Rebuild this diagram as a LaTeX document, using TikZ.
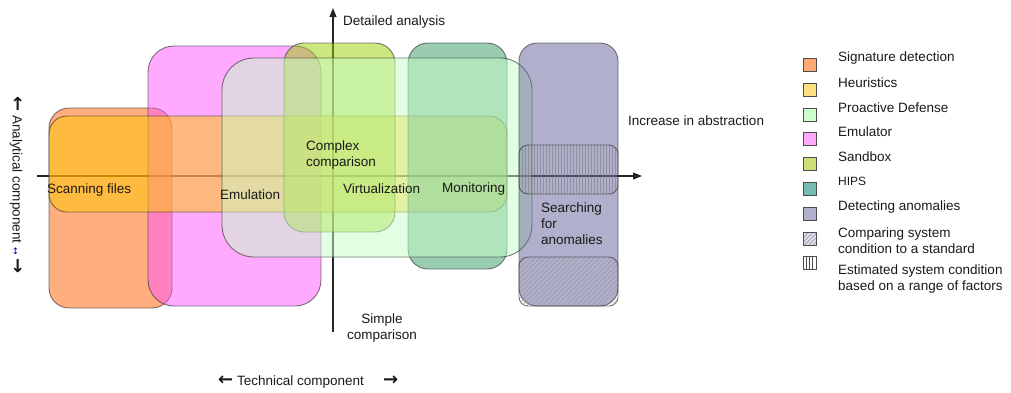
\documentclass[tikz,border=0pt]{standalone}
\usepackage{fontspec}
\setmainfont{Liberation Sans}
\newfontfamily\arrfont{DejaVu Sans}
\usetikzlibrary{arrows.meta,patterns.meta}

% fill colours of the areas (used half transparent)
\definecolor{sigC}{RGB}{255,95,0}
\definecolor{heuC}{RGB}{255,200,0}
\definecolor{proC}{RGB}{200,255,200}
\definecolor{emuC}{RGB}{255,85,255}
\definecolor{sanC}{RGB}{153,205,1}
\definecolor{hipC}{RGB}{51,153,97}
\definecolor{detC}{RGB}{97,97,153}
% legend swatch colours
\definecolor{sigL}{RGB}{255,170,119}
\definecolor{heuL}{RGB}{255,224,128}
\definecolor{proL}{RGB}{204,255,204}
\definecolor{emuL}{RGB}{255,170,255}
\definecolor{sanL}{RGB}{204,224,119}
\definecolor{hipL}{RGB}{119,187,181}
\definecolor{detL}{RGB}{176,176,204}
\definecolor{hatL}{RGB}{224,224,240}

\newcommand{\bigarr}[1]{{\arrfont\bfseries\fontsize{18}{18}\selectfont #1}}

\begin{document}
\begin{tikzpicture}[x=1pt,y=-1pt,
  font=\fontsize{13.5}{16}\selectfont,
  area/.style={draw=black!80, draw opacity=0.65, line width=0.9pt, fill opacity=0.5},
  hatchbox/.style={draw=black!80, draw opacity=0.65, line width=0.9pt, rounded corners=9pt},
  lbl/.style={anchor=west, inner sep=0pt, align=left, text=black!90},
  axis/.style={draw=black!85, line width=1.1pt, -{Triangle[length=9pt,width=7pt]}},
  swatch/.style={draw=black!70, line width=0.9pt}]
\useasboundingbox (0,0) rectangle (1011,392);

% axes
\coordinate (xl) at (37,176);
\coordinate (xr) at (642,176);
\coordinate (yb) at (333,332);
\coordinate (yt) at (333,8);
\draw[axis] (xl) -- (xr);
\draw[axis] (yb) -- (yt);

% areas
\draw[area, fill=sigC, rounded corners=20pt] (49,108) rectangle (172,308);
\draw[area, fill=emuC, rounded corners=26pt] (148,46) rectangle (321,306);
\draw[area, fill=heuC, rounded corners=18pt] (49,116) rectangle (507,212);
\draw[area, fill=sanC, rounded corners=20pt] (284,43) rectangle (395,232);
\draw[area, fill=hipC, rounded corners=20pt] (408,43) rectangle (507,269);
\draw[area, fill=proC, rounded corners=32pt] (222,58) rectangle (532,257);
\draw[area, fill=detC, rounded corners=18pt] (519,43) rectangle (618,306);
\draw[hatchbox, pattern={Lines[angle=90,distance=3pt,line width=0.6pt]}, pattern color=black!50]
  (519,145) rectangle (618,194);
\draw[hatchbox, pattern={Lines[angle=45,distance=3.5pt,line width=0.6pt]}, pattern color=black!45]
  (519,257) rectangle (618,306);

% labels in the plot
\node[lbl] (detailed) at (343,22) {Detailed analysis};
\node[lbl] (abstr) at (628,121) {Increase in abstraction};
\node[lbl] (complex) at (306,155) {Complex\\comparison};
\node[lbl] (scan) at (47,190) {Scanning files};
\node[lbl] (emul) at (220,195) {Emulation};
\node[lbl] (virt) at (343,189) {Virtualization};
\node[lbl] (monit) at (442,189) {Monitoring};
\node[lbl] (search) at (541,224) {Searching\\for\\anomalies};
\node[inner sep=0pt, align=center, text=black!90] (simple) at (382,328) {Simple\\comparison};
\node[lbl] (techn) at (218,382) {\bigarr{←} Technical component};
\node[lbl] (technr) at (383,381) {\bigarr{→}};
\node[inner sep=0pt, rotate=-90, text=black!90] (analyt) at (16,185)
  {\bigarr{←} Analytical component {\color{blue!70!black}\fontsize{9}{9}\arrfont ↔} \bigarr{→}};

% legend
\draw[swatch, fill=sigL] (803,58) rectangle (816,71);
\draw[swatch, fill=heuL] (803,83) rectangle (816,96);
\draw[swatch, fill=proL] (803,108) rectangle (816,121);
\draw[swatch, fill=emuL] (803,132) rectangle (816,145);
\draw[swatch, fill=sanL] (803,157) rectangle (816,170);
\draw[swatch, fill=hipL] (803,182) rectangle (816,195);
\draw[swatch, fill=detL] (803,207) rectangle (816,220);
\draw[swatch, fill=hatL] (803,232) rectangle (816,245);
\draw[swatch, pattern={Lines[angle=45,distance=3pt,line width=0.6pt]}, pattern color=black!40]
  (803,232) rectangle (816,245);
\draw[swatch, pattern={Lines[angle=90,distance=3.2pt,line width=0.7pt]}, pattern color=black!70]
  (803,256) rectangle (816,269);

\node[lbl] (l1) at (838,58) {Signature detection};
\node[lbl] (l2) at (838,83) {Heuristics};
\node[lbl] (l3) at (838,108) {Proactive Defense};
\node[lbl] (l4) at (838,132) {Emulator};
\node[lbl] (l5) at (838,157) {Sandbox};
\node[lbl, font=\fontsize{12}{14}\selectfont] (l6) at (838,181) {HIPS};
\node[lbl] (l7) at (838,207) {Detecting anomalies};
\node[lbl] (l8) at (838,241) {Comparing system\\condition to a standard};
\node[lbl] (l9) at (838,278.5) {Estimated system condition\\based on a range of factors};
\end{tikzpicture}
\end{document}
